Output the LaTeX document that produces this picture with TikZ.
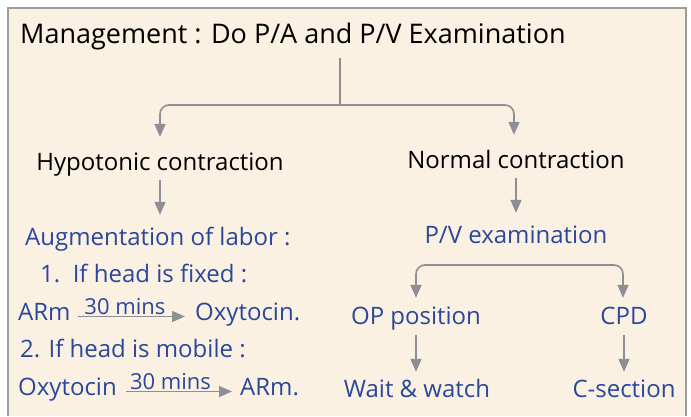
\documentclass[tikz,border=0pt]{standalone}
\usepackage{fontspec}
\setmainfont{Open Sans}
\usetikzlibrary{positioning,arrows.meta}

\definecolor{paper}{HTML}{FAF1E2}
\definecolor{frame}{HTML}{9C9C9C}
\definecolor{ink}{HTML}{2B479B}
\definecolor{wire}{HTML}{8D8F94}

\begin{document}
\begin{tikzpicture}[
    x=1pt, y=-1pt,
    head/.style={font=\fontsize{27}{30}\selectfont, text=black, inner sep=0pt, text height=19pt, text depth=7pt},
    txt/.style={font=\fontsize{24}{26}\selectfont, text=ink, inner sep=0pt, text height=17pt, text depth=6pt},
    small/.style={font=\fontsize{22}{24}\selectfont, text=ink, inner sep=0.5pt},
    arrow/.style={-{Triangle[length=13pt,width=11pt]}, wire, line width=1.6pt},
    link/.style={wire, line width=1.6pt, rounded corners=9pt},
]

% Frame
\useasboundingbox (0,0) rectangle (691,416);
\fill[white] (0,0) rectangle (691,416);
\fill[paper] (8,8) rectangle (686,416);
\draw[frame, line width=1.5pt] (8,416) -- (8,8) -- (686,8) -- (686,416);

% Top
\node[head, anchor=west] (title) at (20,37) {Management : Do P/A and P/V Examination};
\coordinate (split) at (340,105);
\node[txt, text=black] (hypo) at (160,164.5) {Hypotonic contraction};
\node[txt, text=black] (normal) at (516,162.5) {Normal contraction};

% Left branch
\node[txt, anchor=west] (augm) at (25,239.5) {Augmentation of labor :};
\node[txt, anchor=west] (fixed) at (40,276.5) {1.\ \ If head is fixed :};
\node[txt, anchor=west] (armA) at (18,314.5) {ARm};
\node[txt, anchor=west] (oxyA) at (195,314.5) {Oxytocin.};
\node[txt, anchor=west] (mobile) at (20,351.5) {2. If head is mobile :};
\node[txt, anchor=west] (oxyB) at (18,389.5) {Oxytocin};
\node[txt, anchor=west] (armB) at (240,389.5) {ARm.};

% Right branch
\node[txt] (pv) at (516,237.5) {P/V examination};
\coordinate (fork) at (516,265);
\node[txt] (op) at (416,318.5) {OP position};
\node[txt] (cpd) at (624,318.5) {CPD};
\node[txt] (wait) at (417,391.5) {Wait \& watch};
\node[txt] (csec) at (624,391.5) {C-section};

% Arrows
\draw[link] (split |- title.south) ++(0,8) -- (split);
\draw[arrow, rounded corners=9pt, shorten >=16pt] (split) -| (hypo.north);
\draw[arrow, rounded corners=9pt, shorten >=16pt] (split) -| ([xshift=-2pt]normal.north);
\draw[arrow, shorten <=4pt, shorten >=13pt] (hypo) -- (hypo |- augm.north);
\draw[arrow, shorten <=4pt, shorten >=13pt] (normal) -- (normal |- pv.north);
\draw[arrow, rounded corners=9pt, shorten >=9pt] (fork) -| (op.north);
\draw[arrow, rounded corners=9pt, shorten >=9pt] (fork) -| ([xshift=-1pt]cpd.north);
\draw[arrow, shorten <=5pt, shorten >=8pt] (op) -- (op |- wait.north);
\draw[arrow, shorten <=5pt, shorten >=8pt] (cpd) -- (cpd |- csec.north);
\draw[arrow, shorten <=7pt, shorten >=10pt] ([yshift=-2pt]armA.east) -- node[small, above, xshift=-8pt] {30 mins} ([yshift=-2pt]oxyA.west);
\draw[arrow, shorten <=9pt, shorten >=8pt] ([yshift=-2pt]oxyB.east) -- node[small, above, xshift=-8pt] {30 mins} ([yshift=-2pt]armB.west);

\end{tikzpicture}
\end{document}
